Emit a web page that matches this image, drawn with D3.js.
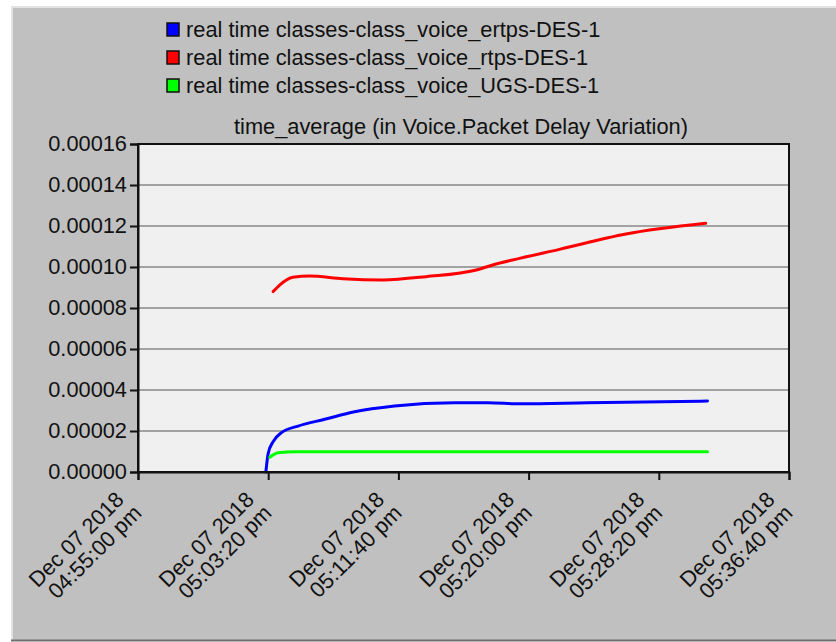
<!DOCTYPE html>
<html>
<head>
<meta charset="utf-8">
<script src="https://cdn.jsdelivr.net/npm/d3@7"></script>
<style>
  html, body { margin: 0; padding: 0; background: #ffffff; }
  svg { display: block; }
  text { font-family: "Liberation Sans", Arial, sans-serif; fill: #111; }
</style>
</head>
<body>
<svg id="chart" width="836" height="642"></svg>
<script>
// Elapsed seconds since Dec 07 2018 04:55:00 pm, paired with time_average values (s)
const seriesNames = [
  "real time classes-class_voice_ertps-DES-1",
  "real time classes-class_voice_rtps-DES-1",
  "real time classes-class_voice_UGS-DES-1"
];
const seriesColors = ["#0000ff", "#ff0000", "#00ff00"];

const ertpsValues = [
  [491, 0], [500, 0.0000091], [519, 0.0000148], [551, 0.0000192],
  [615, 0.0000224], [717, 0.0000257], [832, 0.0000294], [985, 0.0000322],
  [1215, 0.0000338], [1343, 0.0000338], [1471, 0.0000333], [1726, 0.0000338],
  [2187, 0.0000346]
];
const rtpsValues = [
  [519, 0.0000880], [544, 0.0000912], [595, 0.0000950], [659, 0.0000956],
  [787, 0.0000943], [940, 0.0000937], [1107, 0.0000953], [1299, 0.0000985],
  [1362, 0.0001010], [1465, 0.0001042], [1618, 0.0001086], [1874, 0.0001161],
  [2180, 0.0001213]
];
const ugsValues = [
  [506, 0.0000072], [538, 0.0000094], [602, 0.0000099], [1200, 0.0000099],
  [2187, 0.0000099]
];

const xTickSeconds = [0, 500, 1000, 1500, 2000, 2500];
const xTickLabels = [
  ["Dec 07 2018", "04:55:00 pm"],
  ["Dec 07 2018", "05:03:20 pm"],
  ["Dec 07 2018", "05:11:40 pm"],
  ["Dec 07 2018", "05:20:00 pm"],
  ["Dec 07 2018", "05:28:20 pm"],
  ["Dec 07 2018", "05:36:40 pm"]
];
const yTicks = [0, 0.00002, 0.00004, 0.00006, 0.00008, 0.00010, 0.00012, 0.00014, 0.00016];
const chartTitle = "time_average (in Voice.Packet Delay Variation)";

const fontSize = 21.8;
const svg = d3.select("#chart");

// window panel
svg.append("rect").attr("x", 11).attr("y", 6).attr("width", 825).attr("height", 635).attr("fill", "#c0c0c0");
svg.append("line").attr("x1", 11).attr("x2", 836).attr("y1", 7).attr("y2", 7).attr("stroke", "#e2e2e2").attr("stroke-width", 2);
svg.append("line").attr("x1", 12).attr("x2", 12).attr("y1", 6).attr("y2", 641).attr("stroke", "#e2e2e2").attr("stroke-width", 2);
svg.append("line").attr("x1", 11).attr("x2", 836).attr("y1", 640.5).attr("y2", 640.5).attr("stroke", "#6e6e6e").attr("stroke-width", 2);

const plot = { left: 138, right: 789, top: 144, bottom: 472 };

const x = d3.scaleLinear().domain([0, 2500]).range([plot.left, plot.right]);
const y = d3.scaleLinear().domain([0, 0.00016]).range([plot.bottom, plot.top]);

// plot background
svg.append("rect")
  .attr("x", plot.left).attr("y", plot.top)
  .attr("width", plot.right - plot.left).attr("height", plot.bottom - plot.top)
  .attr("fill", "#f0f0f0");

// horizontal grid
svg.append("g").selectAll("line")
  .data(yTicks.slice(1, -1))
  .join("line")
  .attr("x1", plot.left).attr("x2", plot.right)
  .attr("y1", d => y(d)).attr("y2", d => y(d))
  .attr("stroke", "#888888").attr("stroke-width", 1.7);

// series lines
const line = d3.line()
  .x(d => x(d[0])).y(d => y(d[1]))
  .curve(d3.curveMonotoneX);

[ertpsValues, rtpsValues, ugsValues].forEach((vals, i) => {
  svg.append("path")
    .datum(vals)
    .attr("d", line)
    .attr("fill", "none")
    .attr("stroke", seriesColors[i])
    .attr("stroke-width", 3)
    .attr("stroke-linecap", "round")
    .attr("stroke-linejoin", "round");
});

// frame
svg.append("rect")
  .attr("x", plot.left).attr("y", plot.top)
  .attr("width", plot.right - plot.left).attr("height", plot.bottom - plot.top)
  .attr("fill", "none").attr("stroke", "#111").attr("stroke-width", 2);

// y axis
const yAxis = svg.append("g")
  .attr("transform", `translate(${plot.left},0)`)
  .call(d3.axisLeft(y).tickValues(yTicks).tickFormat(d3.format(".5f")).tickSize(8).tickPadding(3));
yAxis.select(".domain").attr("stroke", "#111").attr("stroke-width", 2);
yAxis.selectAll(".tick line").attr("stroke", "#111").attr("stroke-width", 2);
yAxis.selectAll(".tick text")
  .attr("font-family", "Liberation Sans, Arial, sans-serif")
  .attr("font-size", fontSize).attr("fill", "#111");

// x axis with two-line rotated date labels
const xAxis = svg.append("g")
  .attr("transform", `translate(0,${plot.bottom})`)
  .call(d3.axisBottom(x).tickValues(xTickSeconds).tickFormat("").tickSize(8));
xAxis.select(".domain").attr("stroke", "#111").attr("stroke-width", 2);
xAxis.selectAll(".tick line").attr("stroke", "#111").attr("stroke-width", 2);
xAxis.selectAll(".tick").each(function(d, i) {
  const t = d3.select(this).append("text")
    .attr("transform", "rotate(-45)")
    .attr("text-anchor", "end")
    .attr("font-family", "Liberation Sans, Arial, sans-serif")
    .attr("font-size", fontSize).attr("fill", "#111");
  t.append("tspan").attr("x", -30).attr("y", 11).text(xTickLabels[i][0]);
  t.append("tspan").attr("x", -27).attr("y", 33).text(xTickLabels[i][1]);
});

// title
svg.append("text")
  .attr("x", 461).attr("y", 134)
  .attr("text-anchor", "middle")
  .attr("font-size", fontSize)
  .text(chartTitle);

// legend
const legend = svg.append("g").selectAll("g")
  .data(seriesNames)
  .join("g")
  .attr("transform", (d, i) => `translate(167,${23 + i * 28})`);
legend.append("rect")
  .attr("width", 12).attr("height", 13)
  .attr("fill", (d, i) => seriesColors[i])
  .attr("stroke", "#111").attr("stroke-width", 1.5);
legend.append("text")
  .attr("x", 19).attr("y", 14)
  .attr("font-size", fontSize)
  .text(d => d);
</script>
</body>
</html>
